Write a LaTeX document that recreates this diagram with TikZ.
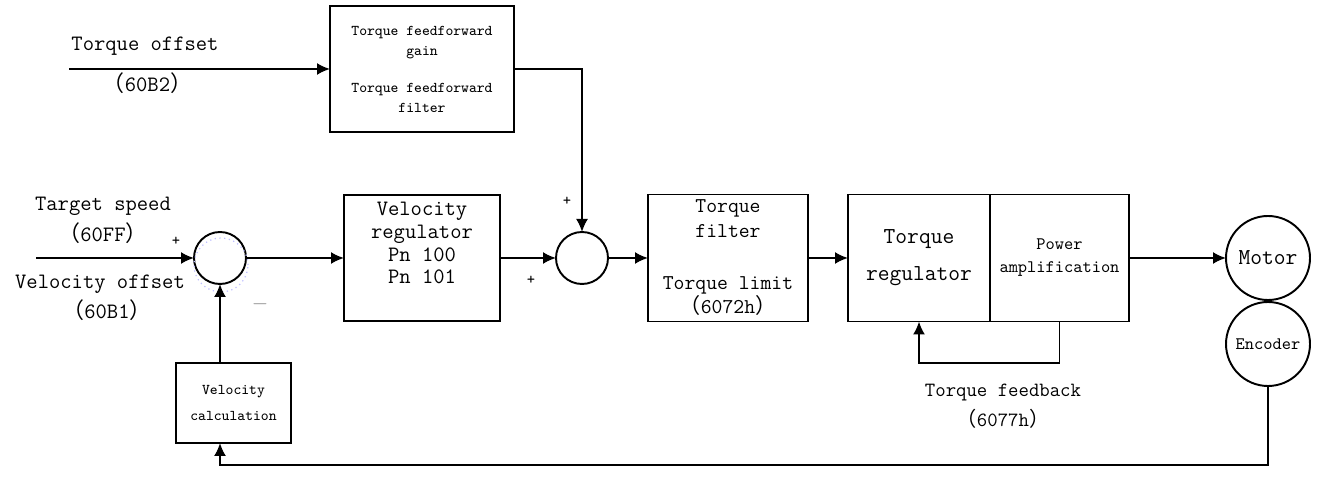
\documentclass[tikz,border=0pt]{standalone}
\usepackage{fontspec}
\newfontfamily\cjk{Noto Sans CJK SC}
\usetikzlibrary{arrows.meta}
% full-width brackets around object indices
\newcommand{\lpar}{{\cjk （}}
\newcommand{\rpar}{{\cjk ）}}

\begin{document}
\begin{tikzpicture}[>={Latex[length=2.6mm,width=2.4mm]}, line width=1.1pt,
  font=\ttfamily\fontsize{12.5}{14}\selectfont,
  blk/.style={draw, align=center, inner sep=0pt, outer sep=0pt},
  sumnode/.style={draw, circle, minimum size=1.04cm, inner sep=0pt, outer sep=0pt},
  sign/.style={font=\ttfamily\fontsize{9}{10}\selectfont}]
\useasboundingbox (0,0) rectangle (26.34,9.9);

% feedforward path
\node[blk, minimum width=3.68cm, minimum height=2.52cm, font=\ttfamily\fontsize{8.5}{11.4}\selectfont]
  (ff) at (8.44,8.52) {Torque feedforward\\gain\\[9.6pt]Torque feedforward\\filter};
\coordinate (toin) at (1.38,8.52);
\draw[->] (toin) -- (ff.west);
\node (tolbl) at (2.9,8.98) {Torque offset};
\node (tocode) at (2.95,8.24) {\lpar 60B2\rpar};

% summing points
\node[sumnode] (sum1) at (4.4,4.74) {};
\node[sumnode] (sum2) at (11.64,4.74) {};
\draw[blue!25, dotted, line width=0.7pt] (4.42,4.6) circle[radius=0.54];

% main chain
\node[blk, minimum width=3.12cm, minimum height=2.52cm, font=\ttfamily\fontsize{12.5}{12.9}\selectfont]
  (velreg) at (8.44,4.74) {Velocity\\regulator\\Pn 100\\Pn 101\\[4pt]};
\node[blk, minimum width=3.2cm, minimum height=2.54cm, font=\ttfamily\fontsize{12}{14}\selectfont]
  (tfilt) at (14.56,4.74) {Torque\\filter\\[15.5pt]Torque limit\\\lpar 6072h\rpar};
\node[blk, minimum width=2.84cm, minimum height=2.54cm, font=\ttfamily\fontsize{13}{21}\selectfont]
  (treg) at (18.38,4.74) {Torque\\regulator};
\node[blk, minimum width=2.78cm, minimum height=2.54cm, font=\ttfamily\fontsize{10}{13}\selectfont]
  (pamp) at (21.19,4.74) {Power\\amplification};
\node[draw, circle, minimum size=1.68cm, inner sep=0pt, outer sep=0pt,
  font=\ttfamily\fontsize{13}{14}\selectfont] (motor) at (25.36,4.74) {Motor};
\node[draw, circle, minimum size=1.68cm, inner sep=0pt, outer sep=0pt,
  font=\ttfamily\fontsize{10}{12}\selectfont] (enc) at (25.36,3.02) {Encoder};
\node[blk, minimum width=2.3cm, minimum height=1.6cm, font=\ttfamily\fontsize{8.5}{15.3}\selectfont]
  (velcalc) at (4.67,1.84) {Velocity\\calculation};

% speed command input
\coordinate (vin) at (0.72,4.74);
\draw[->] (vin) -- (sum1.west);
\node (tslbl) at (2.06,5.78) {Target speed};
\node (tscode) at (2.06,5.24) {\lpar 60FF\rpar};
\node (volbl) at (2.0,4.22) {Velocity offset};
\node (vocode) at (2.14,3.7) {\lpar 60B1\rpar};

\draw[->] (sum1.east) -- (velreg.west);
\draw[->] (velreg.east) -- (sum2.west);
\draw[->] (ff.east) -| (sum2.north);
\draw[->] (sum2.east) -- (tfilt.west);
\draw[->] (tfilt.east) -- (treg.west);
\draw[->] (pamp.east) -- (motor.west);

% signs
\node[sign] (p1) at (3.52,5.08) {+};
\node[text=black!45] (m1) at (5.2,3.82) {$-$};
\node[sign] (p2) at (10.62,4.3) {+};
\node[sign] (p3) at (11.34,5.88) {+};

% current loop feedback
\coordinate (tfb) at (21.19,2.64);
\draw[->] (pamp.south) -- (tfb) -| (treg.south);
\node[font=\ttfamily\fontsize{11.5}{13}\selectfont] (tfblbl) at (20.06,2.04) {Torque feedback};
\node[font=\ttfamily\fontsize{11.5}{13}\selectfont] (tfbcode) at (20.06,1.52) {\lpar 6077h\rpar};

% speed feedback
\coordinate (fbc) at (25.36,0.6);
\draw[->] (enc.south) -- (fbc) -| (velcalc.south -| sum1.center);
\draw[->] (velcalc.north -| sum1.center) -- (sum1.south);
\end{tikzpicture}
\end{document}
